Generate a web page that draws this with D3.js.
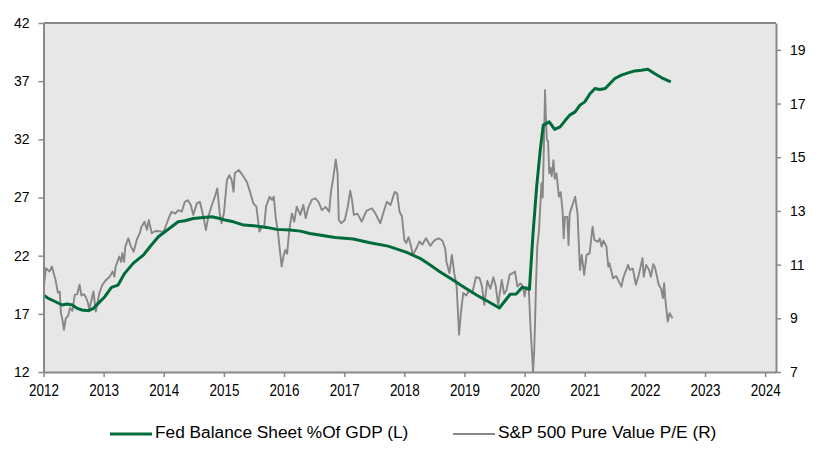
<!DOCTYPE html>
<html>
<head>
<meta charset="utf-8">
<script src="https://cdn.jsdelivr.net/npm/d3@7"></script>
<style>
  body { margin: 0; background: #fff; }
  svg { display: block; }
  text { font-family: "Liberation Sans", Arial, sans-serif; fill: #000; }
</style>
</head>
<body>
<svg id="chart" width="819" height="464"></svg>
<script>
// Fed balance sheet as % of GDP (left axis)
var fedYears = [2012.00, 2012.08, 2012.20, 2012.31, 2012.39, 2012.48, 2012.56, 2012.64, 2012.75, 2012.83,
  2012.91, 2013.02, 2013.13, 2013.24, 2013.35, 2013.49, 2013.66, 2013.77, 2013.91, 2014.02,
  2014.13, 2014.24, 2014.35, 2014.49, 2014.66, 2014.80, 2014.93, 2015.02, 2015.16, 2015.33,
  2015.49, 2015.71, 2015.88, 2016.10, 2016.27, 2016.43, 2016.85, 2017.15, 2017.43, 2017.73,
  2018.04, 2018.26, 2018.43, 2018.59, 2018.81, 2018.98, 2019.20, 2019.40, 2019.58, 2019.76,
  2019.86, 2019.96, 2020.08, 2020.14, 2020.20, 2020.26, 2020.31, 2020.41, 2020.50, 2020.59,
  2020.67, 2020.75, 2020.84, 2020.92, 2021.00, 2021.09, 2021.17, 2021.25, 2021.34, 2021.42,
  2021.50, 2021.61, 2021.72, 2021.83, 2021.94, 2022.05, 2022.16, 2022.30, 2022.43];
var fedValues = [18.62, 18.33, 18.04, 17.76, 17.84, 17.76, 17.47, 17.33, 17.27, 17.47,
  17.90, 18.47, 19.28, 19.47, 20.48, 21.34, 22.05, 22.77, 23.62, 24.05,
  24.48, 24.91, 25.00, 25.20, 25.29, 25.34, 25.20, 25.06, 24.91, 24.63,
  24.57, 24.43, 24.26, 24.20, 24.11, 23.90, 23.57, 23.43, 23.11, 22.82,
  22.28, 21.77, 21.19, 20.62, 19.90, 19.33, 18.62, 18.04, 17.50, 18.68,
  18.70, 19.28, 19.10, 23.92, 27.92, 31.07, 33.22, 33.50, 32.85, 33.07,
  33.59, 34.08, 34.36, 34.94, 35.22, 35.94, 36.37, 36.29, 36.37, 36.80,
  37.23, 37.52, 37.71, 37.88, 37.94, 38.03, 37.66, 37.23, 36.94];

// S&P 500 Pure Value P/E (right axis)
var peYears = [2012.00, 2012.04, 2012.10, 2012.14, 2012.20, 2012.24, 2012.27, 2012.29, 2012.32, 2012.34,
  2012.37, 2012.41, 2012.44, 2012.48, 2012.52, 2012.56, 2012.60, 2012.63, 2012.67, 2012.70,
  2012.74, 2012.76, 2012.80, 2012.83, 2012.87, 2012.93, 2012.98, 2013.04, 2013.10, 2013.15,
  2013.18, 2013.20, 2013.26, 2013.29, 2013.31, 2013.34, 2013.36, 2013.41, 2013.45, 2013.50,
  2013.55, 2013.60, 2013.63, 2013.68, 2013.72, 2013.75, 2013.80, 2013.86, 2014.00, 2014.05,
  2014.09, 2014.13, 2014.19, 2014.24, 2014.30, 2014.35, 2014.40, 2014.45, 2014.49, 2014.55,
  2014.60, 2014.66, 2014.70, 2014.74, 2014.80, 2014.85, 2014.89, 2014.93, 2014.96, 2015.00,
  2015.05, 2015.09, 2015.13, 2015.16, 2015.18, 2015.25, 2015.32, 2015.38, 2015.44, 2015.49,
  2015.54, 2015.59, 2015.63, 2015.67, 2015.70, 2015.76, 2015.80, 2015.83, 2015.86, 2015.90,
  2015.93, 2015.96, 2015.99, 2016.02, 2016.05, 2016.09, 2016.13, 2016.17, 2016.21, 2016.27,
  2016.32, 2016.36, 2016.40, 2016.46, 2016.52, 2016.57, 2016.63, 2016.69, 2016.75, 2016.78,
  2016.82, 2016.86, 2016.89, 2016.91, 2016.95, 2017.01, 2017.06, 2017.10, 2017.13, 2017.16,
  2017.22, 2017.29, 2017.37, 2017.46, 2017.52, 2017.60, 2017.66, 2017.71, 2017.77, 2017.84,
  2017.88, 2017.92, 2017.96, 2018.00, 2018.03, 2018.07, 2018.11, 2018.14, 2018.20, 2018.25,
  2018.30, 2018.36, 2018.43, 2018.50, 2018.57, 2018.63, 2018.68, 2018.70, 2018.75, 2018.79,
  2018.83, 2018.87, 2018.91, 2018.94, 2018.98, 2019.03, 2019.08, 2019.13, 2019.19, 2019.25,
  2019.29, 2019.33, 2019.38, 2019.43, 2019.48, 2019.52, 2019.56, 2019.62, 2019.66, 2019.70,
  2019.75, 2019.80, 2019.84, 2019.88, 2019.93, 2019.97, 2020.00, 2020.03, 2020.07, 2020.10,
  2020.13, 2020.14, 2020.16, 2020.17, 2020.19, 2020.21, 2020.24, 2020.28, 2020.30, 2020.32,
  2020.34, 2020.35, 2020.37, 2020.39, 2020.41, 2020.43, 2020.45, 2020.48, 2020.50, 2020.53,
  2020.57, 2020.60, 2020.63, 2020.65, 2020.67, 2020.71, 2020.73, 2020.75, 2020.84, 2020.88,
  2020.92, 2020.95, 2020.99, 2021.03, 2021.08, 2021.13, 2021.16, 2021.22, 2021.25, 2021.28,
  2021.31, 2021.36, 2021.39, 2021.41, 2021.47, 2021.52, 2021.55, 2021.61, 2021.64, 2021.72,
  2021.75, 2021.80, 2021.85, 2021.89, 2021.91, 2021.96, 2021.98, 2022.02, 2022.07, 2022.10,
  2022.14, 2022.17, 2022.23, 2022.27, 2022.30, 2022.32, 2022.34, 2022.38, 2022.41, 2022.46];
var peValues = [10.06, 10.87, 10.74, 10.93, 10.43, 9.95, 10.00, 9.20, 8.88, 8.57,
  9.00, 9.10, 9.38, 9.28, 9.87, 9.90, 10.25, 9.85, 9.90, 9.81,
  9.57, 9.32, 9.70, 10.00, 9.25, 9.95, 10.25, 10.43, 10.55, 10.74,
  10.55, 10.93, 11.30, 11.10, 11.43, 11.10, 11.67, 11.98, 11.70, 11.48,
  11.92, 12.17, 12.41, 12.60, 12.30, 12.66, 12.17, 12.25, 12.23, 12.54,
  12.78, 12.97, 12.90, 13.03, 12.97, 13.34, 13.40, 13.22, 12.85, 13.28,
  13.34, 12.78, 12.29, 12.78, 13.22, 13.53, 13.84, 12.91, 12.54, 12.92,
  14.15, 14.33, 14.15, 13.71, 14.40, 14.52, 14.30, 14.09, 13.67, 13.28,
  13.16, 12.23, 12.41, 12.41, 13.16, 13.53, 13.41, 13.53, 12.78, 12.17,
  11.55, 10.93, 11.30, 11.55, 11.40, 12.35, 12.91, 12.60, 13.16, 12.85,
  13.22, 12.73, 13.10, 13.41, 13.47, 13.35, 13.03, 13.15, 12.97, 13.71,
  14.27, 14.92, 14.40, 12.66, 12.54, 12.66, 13.16, 13.75, 13.40, 12.85,
  12.90, 12.60, 13.00, 13.10, 12.90, 12.54, 13.00, 13.34, 13.22, 13.71,
  13.65, 12.97, 12.80, 11.92, 11.80, 12.02, 11.70, 11.36, 11.60, 11.86,
  11.75, 11.98, 11.70, 11.90, 11.98, 11.90, 11.60, 11.11, 10.68, 11.36,
  10.68, 10.18, 8.39, 9.20, 9.94, 9.85, 10.06, 9.95, 10.53, 10.50,
  10.20, 9.50, 10.40, 10.10, 10.53, 10.20, 9.50, 10.43, 9.90, 10.06,
  10.62, 10.68, 10.74, 10.18, 10.30, 10.20, 9.81, 10.18, 10.06, 8.57,
  7.46, 7.00, 7.80, 8.57, 10.30, 11.67, 12.29, 14.03, 13.50, 15.39,
  17.50, 16.70, 15.64, 15.60, 14.40, 14.60, 14.30, 14.89, 14.20, 14.40,
  13.53, 13.70, 13.03, 11.98, 12.78, 12.78, 11.73, 12.91, 13.53, 12.91,
  10.80, 11.36, 10.62, 11.36, 11.42, 12.41, 11.92, 11.85, 11.97, 11.67,
  11.90, 11.67, 10.93, 11.05, 10.49, 10.58, 10.45, 10.18, 10.50, 10.99,
  10.80, 10.85, 10.25, 10.55, 10.74, 11.24, 10.55, 10.99, 10.80, 10.55,
  11.02, 10.88, 10.25, 10.10, 9.75, 10.31, 9.70, 8.88, 9.19, 9.00];

var yearTicks = [2012, 2013, 2014, 2015, 2016, 2017, 2018, 2019, 2020, 2021, 2022, 2023, 2024];
var leftTicks = [12, 17, 22, 27, 32, 37, 42];
var rightTicks = [7, 9, 11, 13, 15, 17, 19];
var seriesNames = ["Fed Balance Sheet %Of GDP (L)", "S&P 500 Pure Value P/E (R)"];

var plot = { left: 43.5, right: 776, top: 23, bottom: 372 };
var axisColor = "#898989";
var green = "#006b3a";
var grey = "#878787";

var svg = d3.select("#chart");

var x = d3.scaleLinear().domain([2012, 2024.18]).range([plot.left, plot.right]);
var yLeft = d3.scaleLinear().domain([12, 42]).range([plot.bottom, plot.top]);
var yRight = d3.scaleLinear().domain([7, 20]).range([plot.bottom, plot.top]);

// the year labels in the picture use a narrow face
var squeeze = function(sel, k) {
  sel.each(function() {
    var w = this.getComputedTextLength();
    d3.select(this).attr("textLength", w * k).attr("lengthAdjust", "spacingAndGlyphs");
  });
};

svg.append("rect")
  .attr("x", plot.left)
  .attr("y", plot.top)
  .attr("width", plot.right - plot.left)
  .attr("height", plot.bottom - plot.top)
  .attr("fill", "#e7e7e7");

svg.append("clipPath")
  .attr("id", "plot-clip")
  .append("rect")
  .attr("x", plot.left)
  .attr("y", plot.top)
  .attr("width", plot.right - plot.left)
  .attr("height", plot.bottom - plot.top);

var peLine = d3.line()
  .x(function(d, i) { return x(peYears[i]); })
  .y(function(d) { return yRight(d); });

var fedLine = d3.line()
  .x(function(d, i) { return x(fedYears[i]); })
  .y(function(d) { return yLeft(d); });

var lines = svg.append("g").attr("clip-path", "url(#plot-clip)");

lines.append("path")
  .datum(peValues)
  .attr("d", peLine)
  .attr("fill", "none")
  .attr("stroke", grey)
  .attr("stroke-width", 1.9)
  .attr("stroke-linejoin", "round");

lines.append("path")
  .datum(fedValues)
  .attr("d", fedLine)
  .attr("fill", "none")
  .attr("stroke", green)
  .attr("stroke-width", 3)
  .attr("stroke-linejoin", "round");

// top border of the plot area
svg.append("line")
  .attr("x1", plot.left)
  .attr("x2", plot.right)
  .attr("y1", plot.top)
  .attr("y2", plot.top)
  .attr("stroke", axisColor)
  .attr("stroke-width", 2);

var styleAxis = function(g) {
  g.select(".domain").attr("stroke", axisColor).attr("stroke-width", 2);
  g.selectAll(".tick line").attr("stroke", axisColor).attr("stroke-width", 1.5);
  g.selectAll(".tick text").attr("fill", "#000").style("font-size", "14px");
};

svg.append("g")
  .attr("transform", "translate(0," + plot.bottom + ")")
  .call(d3.axisBottom(x).tickValues(yearTicks).tickFormat(d3.format("d"))
    .tickSize(5).tickSizeOuter(0).tickPadding(8))
  .call(styleAxis)
  .selectAll(".tick text")
  .style("font-size", "16px")
  .call(squeeze, 0.84);

svg.append("g")
  .attr("transform", "translate(" + plot.left + ",0)")
  .call(d3.axisLeft(yLeft).tickValues(leftTicks).tickSize(5).tickSizeOuter(0).tickPadding(9))
  .call(styleAxis);

svg.append("g")
  .attr("transform", "translate(" + plot.right + ",0)")
  .call(d3.axisRight(yRight).tickValues(rightTicks).tickSize(5).tickSizeOuter(0).tickPadding(9))
  .call(styleAxis);

// legend
var legendX = [110, 453];
var legendColors = [green, grey];
var legendWidths = [3, 2];

var legend = svg.append("g").selectAll("g")
  .data(seriesNames)
  .enter().append("g")
  .attr("transform", function(d, i) { return "translate(" + legendX[i] + ",434)"; });

legend.append("line")
  .attr("x1", 0)
  .attr("x2", 42)
  .attr("stroke", function(d, i) { return legendColors[i]; })
  .attr("stroke-width", function(d, i) { return legendWidths[i]; });

legend.append("text")
  .attr("x", 45)
  .attr("y", 4)
  .style("font-size", "17.3px")
  .text(function(d) { return d; });
</script>
</body>
</html>
